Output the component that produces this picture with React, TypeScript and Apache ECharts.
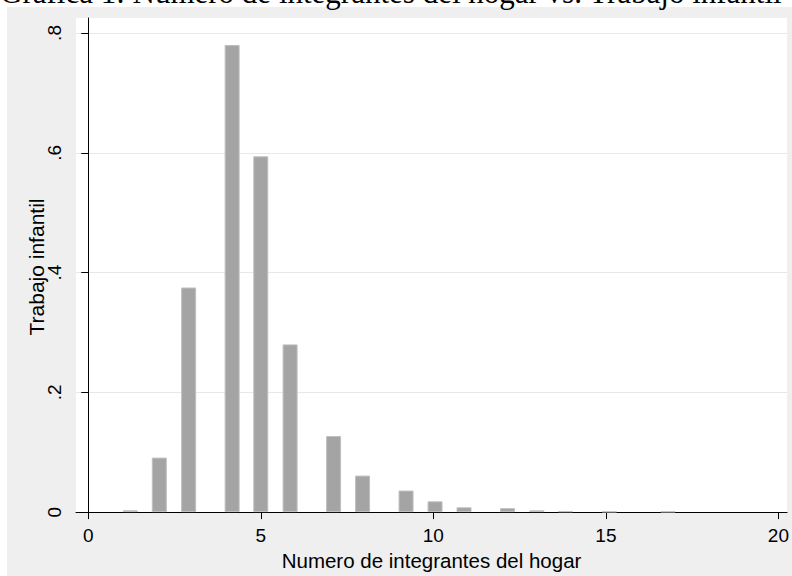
import React, { useEffect, useRef } from "react";
import * as echarts from "echarts";

const chartTitle = "Grafica 1: Numero de integrantes del hogar vs. Trabajo infantil";
const xTitle = "Numero de integrantes del hogar";
const yTitle = "Trabajo infantil";
const xTicks = [0, 5, 10, 15, 20];
const yTicks = [0, 0.2, 0.4, 0.6, 0.8];
const barX = [1.22, 2.06, 2.91, 4.17, 5.0, 5.85, 7.11, 7.95, 9.21, 10.05, 10.89, 12.15, 13.0, 13.83, 15.1, 16.8];
const barY = [0.003, 0.091, 0.375, 0.78, 0.594, 0.28, 0.127, 0.061, 0.036, 0.018, 0.008, 0.0066, 0.003, 0.0015, 0.001, 0.001];

const fmtY = (v: number) => (v === 0 ? "0" : String(Math.round(v * 10) / 10).replace(/^0/, ""));

export default function App() {
  const ref = useRef<HTMLDivElement>(null);
  useEffect(() => {
    if (!ref.current) return;
    const chart = echarts.init(ref.current, undefined, { renderer: "svg" });
    const sans = "'Liberation Sans', Arial, sans-serif";
    chart.setOption({
      animation: false,
      backgroundColor: "#ffffff",
      graphic: [
        {
          type: "rect",
          z: -10,
          shape: { x: 7, y: 7, width: 800, height: 580 },
          style: { fill: "#efefef" },
        },
        {
          type: "text",
          z: 10,
          x: 0,
          y: -7.5,
          style: {
            text: chartTitle,
            font: "31px 'Liberation Serif', 'Times New Roman', serif",
            fill: "#000000",
            textAlign: "left",
            textVerticalAlign: "middle",
          },
        },
        {
          type: "text",
          z: 10,
          x: 36,
          y: 267,
          rotation: Math.PI / 2,
          style: {
            text: yTitle,
            font: "21px 'Liberation Sans', Arial, sans-serif",
            fill: "#000000",
            textAlign: "center",
            textVerticalAlign: "middle",
          },
        },
      ],
      grid: {
        left: 76,
        right: 0,
        top: 18,
        bottom: 60,
        show: true,
        backgroundColor: "#ffffff",
        borderWidth: 0,
      },
      xAxis: {
        type: "value",
        min: -0.354,
        max: 20.25,
        name: xTitle,
        nameLocation: "middle",
        nameGap: 33,
        nameTextStyle: { fontFamily: sans, fontSize: 20.5, color: "#000" },
        axisLine: { show: true, onZero: false, lineStyle: { color: "#000", width: 1 } },
        axisTick: { show: true, length: 7, customValues: xTicks, lineStyle: { color: "#000" } },
        axisLabel: {
          customValues: xTicks,
          fontFamily: sans,
          fontSize: 19,
          color: "#000",
          margin: 14,
          formatter: (v: number) => String(v),
        },
        splitLine: { show: false },
      },
      yAxis: {
        type: "value",
        min: 0,
        max: 0.825,
        interval: 0.2,
        axisLine: { show: true, lineStyle: { color: "#000", width: 1 } },
        axisTick: { show: true, length: 7, customValues: yTicks, lineStyle: { color: "#000" } },
        axisLabel: {
          customValues: yTicks,
          rotate: 90,
          fontFamily: sans,
          fontSize: 19,
          color: "#000",
          margin: 12,
          formatter: (v: number) => fmtY(v),
        },
        splitLine: { show: true, lineStyle: { color: "#e8e8e8", width: 1 } },
      },
      series: [
        {
          type: "bar",
          data: barX.map((x, i) => [x, barY[i]]),
          barWidth: 15,
          itemStyle: { color: "#a4a4a4", borderColor: "#bfbfbf", borderWidth: 1 },
        },
      ],
    });
    return () => chart.dispose();
  }, []);
  return (
    <div
      ref={ref}
      style={{ position: "fixed", left: 0, top: 0, width: 792, height: 576 }}
    />
  );
}
